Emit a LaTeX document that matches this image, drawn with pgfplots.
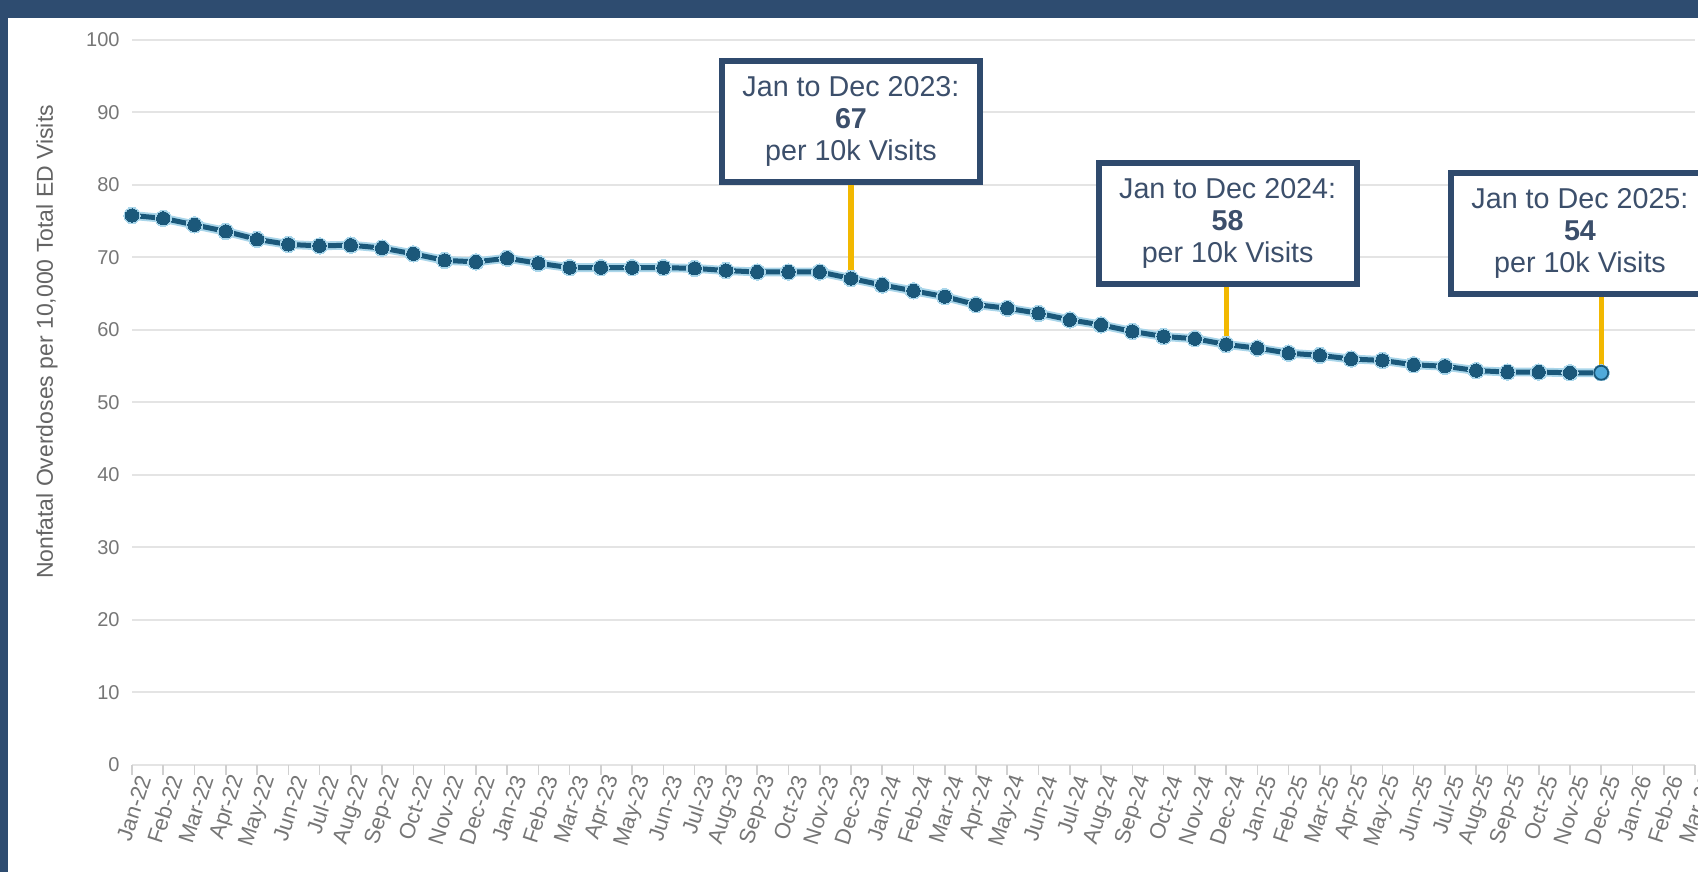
\documentclass[border=0pt]{standalone}
\usepackage{pgfplots}
\pgfplotsset{compat=1.18}
\usepackage{pgfplotstable}
\usepackage{fontspec}
\setmainfont{Liberation Sans}
\definecolor{framec}{RGB}{46,76,112}
\definecolor{mainc}{RGB}{27,88,122}
\definecolor{haloc}{RGB}{170,214,234}
\definecolor{lastc}{RGB}{80,170,218}
\definecolor{yellowc}{RGB}{242,184,0}
\definecolor{boxc}{RGB}{47,74,109}
\definecolor{boxtext}{RGB}{60,79,107}
\definecolor{tickc}{RGB}{118,118,118}
\definecolor{labc}{RGB}{100,100,100}
\definecolor{gridc}{RGB}{228,228,228}
\pgfplotstableread{
x y
0 75.8
1 75.4
2 74.5
3 73.6
4 72.5
5 71.8
6 71.6
7 71.7
8 71.3
9 70.5
10 69.6
11 69.4
12 69.9
13 69.2
14 68.6
15 68.6
16 68.6
17 68.6
18 68.5
19 68.2
20 68.0
21 68.0
22 68.0
23 67.1
24 66.2
25 65.4
26 64.6
27 63.5
28 63.0
29 62.3
30 61.4
31 60.7
32 59.8
33 59.1
34 58.8
35 58.0
36 57.5
37 56.8
38 56.5
39 56.0
40 55.8
41 55.2
42 55.0
43 54.4
44 54.2
45 54.2
46 54.1
47 54.1
}\rates
\begin{document}
\begin{tikzpicture}[
  box/.style={draw=boxc, line width=3pt, fill=white, align=center, text=boxtext,
    minimum width=129pt, minimum height=60.5pt, inner sep=0pt,
    font=\fontsize{14.35pt}{16pt}\selectfont, anchor=south}]
\useasboundingbox (0,0) rectangle (849pt,436pt);
\fill[white] (0,0) rectangle (849pt,436pt);
\begin{axis}[
  at={(66pt,53.5pt)}, anchor=south west,
  scale only axis, width=781.5pt, height=362.5pt,
  xmin=0, xmax=50, ymin=0, ymax=100,
  clip=false,
  axis line style={draw=none},
  ymajorgrids, grid style={color=gridc, line width=1pt},
  ytick={0,10,...,100},
  xtick={0,...,50},
  xtick pos=bottom, ytick pos=left,
  tick align=outside, major tick length=5pt,
  xtick style={color=gridc!80!gray, line width=0.8pt},
  ytick style={draw=none},
  /pgf/number format/assume math mode=true,
  yticklabel style={font=\fontsize{10pt}{12pt}\selectfont, text=tickc, anchor=east, inner sep=0pt, xshift=-1pt},
  xticklabel style={font=\fontsize{11pt}{12pt}\selectfont, text=tickc, rotate=72, anchor=east, inner sep=0pt, xshift=1.5pt, yshift=-6pt},
  xticklabels={Jan-22,Feb-22,Mar-22,Apr-22,May-22,Jun-22,Jul-22,Aug-22,Sep-22,Oct-22,Nov-22,Dec-22,
    Jan-23,Feb-23,Mar-23,Apr-23,May-23,Jun-23,Jul-23,Aug-23,Sep-23,Oct-23,Nov-23,Dec-23,
    Jan-24,Feb-24,Mar-24,Apr-24,May-24,Jun-24,Jul-24,Aug-24,Sep-24,Oct-24,Nov-24,Dec-24,
    Jan-25,Feb-25,Mar-25,Apr-25,May-25,Jun-25,Jul-25,Aug-25,Sep-25,Oct-25,Nov-25,Dec-25,
    Jan-26,Feb-26,Mar-26},
]
\draw[yellowc, line width=2.6pt] (axis cs:23,67.1) -- (axis cs:23,80);
\draw[yellowc, line width=2.6pt] (axis cs:35,58.0) -- (axis cs:35,65.9);
\draw[yellowc, line width=2.6pt] (axis cs:47,54.1) -- (axis cs:47,64.55);
\addplot[haloc, line width=4.4pt, mark=*, mark size=4.1pt, mark options={fill=haloc, draw=haloc, line width=0pt}] table[x=x, y=y] {\rates};
\addplot[mainc, line width=2.5pt, mark=*, mark size=3.3pt, mark options={fill=mainc, draw=mainc, line width=0pt}] table[x=x, y=y] {\rates};
\addplot[only marks, mark=*, mark size=3.5pt, mark options={fill=lastc, draw=mainc, line width=0.9pt}] coordinates {(47,54.1)};
\node[box] at (axis cs:23,80) {Jan to Dec 2023:\\\textbf{67}\\per 10k Visits};
\node[box] at (axis cs:35.05,65.9) {Jan to Dec 2024:\\\textbf{58}\\per 10k Visits};
\node[box] at (axis cs:46.32,64.55) {Jan to Dec 2025:\\\textbf{54}\\per 10k Visits};
\end{axis}
\node[rotate=90, text=labc, font=\fontsize{11.5pt}{13pt}\selectfont] at (23.5pt,265pt) {Nonfatal Overdoses per 10,000 Total ED Visits};
\fill[framec] (0,427pt) rectangle (849pt,436pt);
\fill[framec] (0,0) rectangle (4pt,436pt);
\end{tikzpicture}
\end{document}
